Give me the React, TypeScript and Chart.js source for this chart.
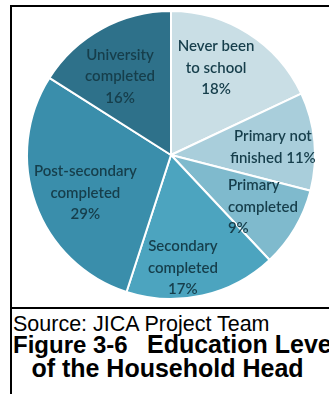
import React, { useEffect, useRef } from "react";
import { Chart, registerables } from "chart.js";

Chart.register(...registerables);

const categories = [
  "Never been to school",
  "Primary not finished",
  "Primary completed",
  "Secondary completed",
  "Post-secondary completed",
  "University completed",
];
const shares = [18, 11, 9, 17, 29, 16];
const labelLines = [
  ["Never been", "to school", "{v}%"],
  ["Primary not", "finished {v}%"],
  ["Primary", "completed", "{v}%"],
  ["Secondary", "completed", "{v}%"],
  ["Post-secondary", "completed", "{v}%"],
  ["University", "completed", "{v}%"],
];
const sliceColors = ["#c9dee5", "#a9cedb", "#7fbacd", "#4ca4bf", "#3a8eab", "#2e718a"];

const sourceText = "Source: JICA Project Team";
const figureNo = "Figure 3-6";
const figureTitle1 = "Education Level";
const figureTitle2 = "of the Household Head";

const labelPlugin = {
  id: "sliceLabels",
  afterDatasetsDraw(chart: any, _args: any, opts: any) {
    const meta = chart.getDatasetMeta(0);
    const ctx = chart.ctx;
    const place = opts.placement || [];
    ctx.save();
    ctx.fillStyle = opts.color;
    ctx.font = opts.font;
    ctx.textBaseline = "middle";
    meta.data.forEach((el: any, i: number) => {
      const p = el.getProps(["x", "y", "startAngle", "endAngle", "outerRadius"], true);
      const pl = place[i] || { da: 0, r: 0.65, align: "center" };
      const mid = (p.startAngle + p.endAngle) / 2 + (pl.da * Math.PI) / 180;
      const px = p.x + Math.cos(mid) * pl.r * p.outerRadius;
      const py = p.y + Math.sin(mid) * pl.r * p.outerRadius;
      const lines = labelLines[i].map((s) => s.replace("{v}", String(shares[i])));
      const lh = opts.lineHeight;
      ctx.textAlign = pl.align;
      lines.forEach((ln: string, k: number) => {
        ctx.fillText(ln, px, py + (k - (lines.length - 1) / 2) * lh);
      });
    });
    ctx.restore();
  },
};

function PieChart() {
  const ref = useRef<HTMLCanvasElement | null>(null);
  useEffect(() => {
    if (!ref.current) return;
    const chart = new Chart(ref.current, {
      type: "pie",
      data: {
        labels: categories,
        datasets: [
          {
            data: shares,
            backgroundColor: sliceColors,
            borderColor: "#ffffff",
            borderWidth: 2,
          },
        ],
      },
      options: {
        animation: false,
        responsive: false,
        maintainAspectRatio: false,
        layout: { padding: { left: 14, right: 13, top: 3, bottom: 6 } },
        plugins: {
          legend: { display: false },
          tooltip: { enabled: false },
          sliceLabels: {
            color: "#163e4b",
            font: "600 15px Lato",
            lineHeight: 21.5,
            placement: [
              { da: -5, r: 0.68, align: "center" },
              { da: 1.0, r: 0.71, align: "center" },
              { da: 11.8, r: 0.535, align: "left" },
              { da: 6.6, r: 0.79, align: "center" },
              { da: -4, r: 0.65, align: "center" },
              { da: -4.2, r: 0.65, align: "center" },
            ],
          },
        } as any,
      },
      plugins: [labelPlugin],
    });
    return () => chart.destroy();
  }, []);
  return (
    <canvas
      ref={ref}
      width={317}
      height={299}
      style={{ position: "absolute", left: 12, top: 7, width: 317, height: 299 }}
    />
  );
}

export default function App() {
  const txt = { position: "absolute" as const, whiteSpace: "pre" as const, lineHeight: 1, color: "#000" };
  return (
    <div
      style={{
        position: "fixed",
        left: 0,
        top: 0,
        width: 329,
        height: 394,
        overflow: "hidden",
        background: "#fff",
        fontFamily: "'Liberation Sans', Arial, sans-serif",
      }}
    >
      <div style={{ position: "absolute", left: 10, top: 5, width: 319, height: 2, background: "#000" }} />
      <div style={{ position: "absolute", left: 10, top: 5, width: 2, height: 389, background: "#000" }} />
      <div style={{ position: "absolute", left: 10, top: 307, width: 319, height: 2, background: "#000" }} />
      <PieChart />
      <div style={{ ...txt, left: 13, top: 314, fontSize: 21.5 }}>{sourceText}</div>
      <div style={{ ...txt, left: 13, top: 333, fontSize: 24, fontWeight: "bold" }}>{figureNo}</div>
      <div style={{ ...txt, left: 147, top: 332, fontSize: 25, fontWeight: "bold" }}>{figureTitle1}</div>
      <div style={{ ...txt, left: 10, width: 315, textAlign: "center", top: 356, fontSize: 25, fontWeight: "bold" }}>
        {figureTitle2}
      </div>
    </div>
  );
}
